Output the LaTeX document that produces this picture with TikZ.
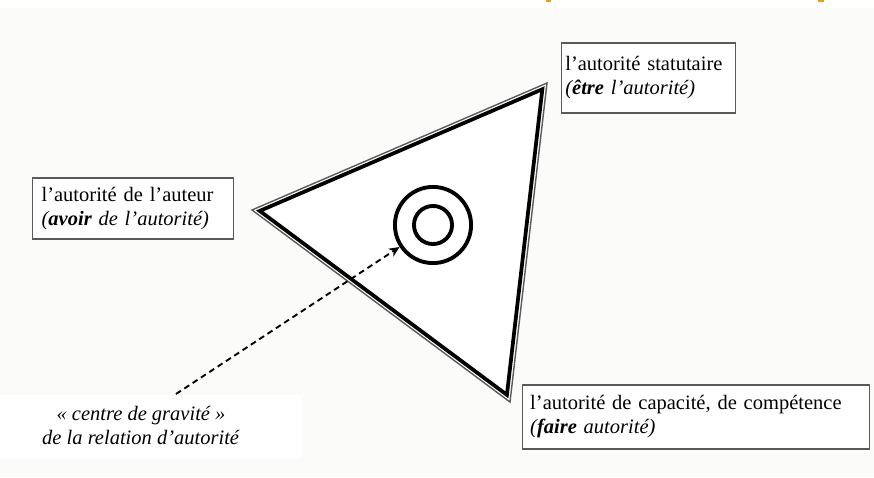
\documentclass[tikz,border=0pt]{standalone}
\usepackage{fontspec}
\setmainfont{Liberation Serif}
\usetikzlibrary{positioning,calc,arrows.meta}
\definecolor{paper}{RGB}{251,251,249}
\definecolor{rim}{RGB}{90,90,90}
\definecolor{tabgold}{RGB}{232,160,20}

\begin{document}
\begin{tikzpicture}[x=0.03cm,y=-0.03cm,
  txt/.style={font=\fontsize{17.5pt}{20.5pt}\selectfont},
  pole/.style={txt,draw=rim,line width=1.1pt,fill=white,align=left,inner ysep=2pt},
  ring/.style={circle,draw=black,line width=3.3pt,inner sep=0pt}]
  \useasboundingbox (0,0) rectangle (874,477);
  \fill[paper] (0,8) rectangle (874,477);
  \fill[tabgold] (546,0) rectangle (551,1.5);
  \fill[tabgold] (818,0) rectangle (824,1.5);
  \fill[white] (0,395) rectangle (302,458);
  % triangle of the three poles
  \coordinate (pa) at (252,210);
  \coordinate (pb) at (547,83);
  \coordinate (pc) at (510,402);
  \coordinate (ctr) at (436.3,231.7);
  \filldraw[fill=white,draw=rim,line width=1.2pt,line join=miter] (pa) -- (pb) -- (pc) -- cycle;
  \draw[line width=3.2pt,line join=miter] ($(ctr)!0.958!(pa)$) -- ($(ctr)!0.958!(pb)$)
    -- ($(ctr)!0.958!(pc)$) -- cycle;
  % centre of gravity
  \node[ring,minimum size=65pt] (gc) at (433,225) {};
  \node[ring,minimum size=32.5pt] (gcin) at (gc) {};
  % the three poles
  \node[pole,text width=142pt,minimum height=59.7pt] (stat) at (648.5,78)
    {l’autorité statutaire\\ \textit{(\textbf{être} l’autorité)}};
  \node[pole,inner xsep=8pt,text width=156pt,minimum height=52pt] (aut) at (133,208.5)
    {l’autorité de l’auteur\\ \textit{(\textbf{avoir} de l’autorité)}};
  \node[pole,inner xsep=6.8pt,text width=283pt,minimum height=54.6pt] (comp) at (696,417)
    {l’autorité de capacité, de compétence\\ \textit{(\textbf{faire} autorité)}};
  \node[txt,align=center] (grav) at (141,425)
    {\textit{« centre de gravité »}\\ \textit{de la relation d’autorité}};
  \coordinate (gtail) at (176,394);
  \draw[line width=1.6pt,dash pattern=on 5pt off 3.5pt,-{Stealth[length=9pt,width=8pt]}] (gtail) -- (gc);
\end{tikzpicture}
\end{document}
